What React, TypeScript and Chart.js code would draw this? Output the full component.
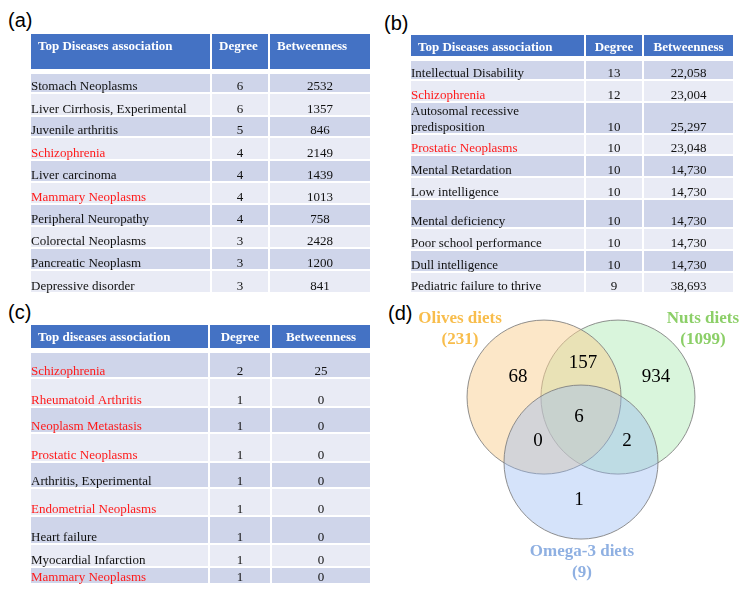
import React, { useEffect, useRef } from 'react';
import { Chart, registerables } from 'chart.js';

Chart.register(...registerables);

// ------------------------------------------------------------------ data
const tableAHeader = ['Top Diseases association', 'Degree', 'Betweenness'];
const tableADiseases = [
  'Stomach Neoplasms', 'Liver Cirrhosis, Experimental', 'Juvenile arthritis', 'Schizophrenia',
  'Liver carcinoma', 'Mammary Neoplasms', 'Peripheral Neuropathy', 'Colorectal Neoplasms',
  'Pancreatic Neoplasm', 'Depressive disorder',
];
const tableADegree = [6, 6, 5, 4, 4, 4, 4, 3, 3, 3];
const tableABetweenness = [2532, 1357, 846, 2149, 1439, 1013, 758, 2428, 1200, 841];

const tableBHeader = ['Top Diseases association', 'Degree', 'Betweenness'];
const tableBDiseases = [
  'Intellectual Disability', 'Schizophrenia', 'Autosomal recessive\npredisposition', 'Prostatic Neoplasms',
  'Mental Retardation', 'Low intelligence', 'Mental deficiency', 'Poor school performance',
  'Dull intelligence', 'Pediatric failure to thrive',
];
const tableBDegree = [13, 12, 10, 10, 10, 10, 10, 10, 10, 9];
const tableBBetweenness = [22058, 23004, 25297, 23048, 14730, 14730, 14730, 14730, 14730, 38693];

const tableCHeader = ['Top diseases association', 'Degree', 'Betweenness'];
const tableCDiseases = [
  'Schizophrenia', 'Rheumatoid Arthritis', 'Neoplasm Metastasis', 'Prostatic Neoplasms',
  'Arthritis, Experimental', 'Endometrial Neoplasms', 'Heart failure', 'Myocardial Infarction',
  'Mammary Neoplasms',
];
const tableCDegree = [2, 1, 1, 1, 1, 1, 1, 1, 1];
const tableCBetweenness = [25, 0, 0, 0, 0, 0, 0, 0, 0];

const highlightedDiseases = [
  'Schizophrenia', 'Mammary Neoplasms', 'Prostatic Neoplasms', 'Rheumatoid Arthritis',
  'Neoplasm Metastasis', 'Endometrial Neoplasms',
];

const vennSetNames = ['Olives diets', 'Nuts diets', 'Omega-3 diets'];
const vennSetSizes = [231, 1099, 9];
const vennRegionNames = ['Olives only', 'Olives & Nuts', 'Nuts only', 'All three', 'Olives & Omega-3', 'Nuts & Omega-3', 'Omega-3 only'];
const vennRegionCounts = [68, 157, 934, 6, 0, 2, 1];

// ------------------------------------------------------------------ style / layout
const SERIF = '"Liberation Serif", "Times New Roman", Times, serif';
const SANS = '"Liberation Sans", Arial, Helvetica, sans-serif';
const HEADER_BLUE = '#4472c4';
const ROW_DARK = '#cfd5ea';
const ROW_LIGHT = '#e9ebf5';
const TEXT_RED = '#ff1a1a';
const TEXT_BLACK = '#111111';
const BODY_FONT = `13px ${SERIF}`;
const HEADER_FONT = `bold 13px ${SERIF}`;

type TableSpec = {
  header: string[];
  names: string[];
  degree: number[];
  betweenness: number[];
  thousands: boolean;
  left: number;
  top: number;
  colEdges: number[];
  headerHeight: number;
  bodyStart: number;
  rowHeights: number[];
  headerAlign: string[];
};

const tableA: TableSpec = {
  header: tableAHeader, names: tableADiseases, degree: tableADegree, betweenness: tableABetweenness,
  thousands: false, left: 30, top: 33, colEdges: [0, 181, 239, 341], headerHeight: 37, bodyStart: 40,
  rowHeights: [20, 23, 21, 23, 22, 22, 22, 22, 22, 23], headerAlign: ['left', 'left', 'left'],
};
const tableB: TableSpec = {
  header: tableBHeader, names: tableBDiseases, degree: tableBDegree, betweenness: tableBBetweenness,
  thousands: true, left: 410, top: 34, colEdges: [0, 175, 233, 324], headerHeight: 23, bodyStart: 26,
  rowHeights: [20, 22, 32, 21, 22, 22, 29, 22, 22, 21], headerAlign: ['left', 'center', 'center'],
};
const tableC: TableSpec = {
  header: tableCHeader, names: tableCDiseases, degree: tableCDegree, betweenness: tableCBetweenness,
  thousands: false, left: 30, top: 324, colEdges: [0, 179, 241, 341], headerHeight: 25, bodyStart: 28,
  rowHeights: [26, 29, 26, 29, 26, 28, 28, 23, 17], headerAlign: ['left', 'center', 'center'],
};

const VENN_BOX = { left: 380, top: 300, width: 367, height: 299 };
const VENN_UNIT = 77; // px per circle radius
const VENN_ORIGIN = { x: 201, y: 118.7 }; // canvas px of the diagram centre
const vennCircleCenters = [[-0.48, 0.281], [0.48, 0.281], [0, -0.563]];
const vennRegionPositions = [
  [-0.818, 0.542], [0.026, 0.723], [0.974, 0.542], [-0.026, 0.022],
  [-0.558, -0.29], [0.597, -0.29], [-0.026, -1.056],
];
const vennSetLabelPositions = [[-1.571, 1.295], [1.584, 1.295], [0.013, -1.731]];
const vennCircleFills = ['rgba(249,207,145,0.5)', 'rgba(179,235,185,0.5)', 'rgba(150,185,242,0.4)'];
const vennCircleOrder = [1, 2, 0];
const vennLabelColors = ['#f8bd4c', '#8ccf68', '#8fb0e2'];

function loadFonts(): Promise<unknown> {
  const fonts = (document as any).fonts;
  if (!fonts) return Promise.resolve();
  return Promise.all(
    [BODY_FONT, HEADER_FONT, `19px ${SERIF}`, `bold 17px ${SERIF}`, `20px ${SANS}`].map((f) => fonts.load(f).catch(() => null)),
  );
}

// ------------------------------------------------------------------ table chart
function TableChart({ spec }: { spec: TableSpec }) {
  const ref = useRef<HTMLCanvasElement>(null);
  const width = spec.colEdges[spec.colEdges.length - 1];
  const height = spec.bodyStart + spec.rowHeights.reduce((a, b) => a + b, 0);

  useEffect(() => {
    const canvas = ref.current;
    if (!canvas) return;
    const tops: number[] = [0];
    const bottoms: number[] = [spec.headerHeight];
    let y = spec.bodyStart;
    spec.rowHeights.forEach((h) => {
      tops.push(y);
      y += h;
      bottoms.push(y);
    });
    const fmt = (n: number) => (spec.thousands ? n.toLocaleString('en-US') : String(n));
    const texts: string[][] = [
      spec.header,
      ...spec.names.map((n, i) => [n, String(spec.degree[i]), fmt(spec.betweenness[i])]),
    ];

    const datasets = [0, 1, 2].map((c) => ({
      label: spec.header[c],
      data: tops.map((t, r) => ({ x: (spec.colEdges[c] + spec.colEdges[c + 1]) / 2, y: [t, bottoms[r]] })),
      barThickness: spec.colEdges[c + 1] - spec.colEdges[c],
      grouped: false,
      backgroundColor: (ctx: any) => (ctx.dataIndex === 0 ? HEADER_BLUE : ctx.dataIndex % 2 === 1 ? ROW_DARK : ROW_LIGHT),
      borderColor: '#ffffff',
      borderWidth: 1,
      borderSkipped: false,
      inflateAmount: 0,
    }));

    const textPlugin = {
      id: 'tableText',
      afterDatasetsDraw(chart: any) {
        const ctx = chart.ctx as CanvasRenderingContext2D;
        ctx.save();
        for (let c = 0; c < 3; c++) {
          const meta = chart.getDatasetMeta(c);
          meta.data.forEach((el: any, r: number) => {
            const p = el.getProps(['x', 'y', 'base', 'width'], true);
            const top = Math.min(p.y, p.base);
            const bottom = Math.max(p.y, p.base);
            const left = p.x - p.width / 2;
            const txt = texts[r][c];
            if (r === 0) {
              ctx.font = HEADER_FONT;
              ctx.fillStyle = '#ffffff';
              ctx.textBaseline = 'alphabetic';
              if (spec.headerAlign[c] === 'center') {
                ctx.textAlign = 'center';
                ctx.fillText(txt, p.x, top + 16.5);
              } else {
                ctx.textAlign = 'left';
                ctx.fillText(txt, left + 8, top + 16.5);
              }
              return;
            }
            ctx.font = BODY_FONT;
            ctx.textBaseline = 'alphabetic';
            const lines = txt.split('\n');
            if (c === 0) {
              ctx.textAlign = 'left';
              ctx.fillStyle = highlightedDiseases.includes(txt) ? TEXT_RED : TEXT_BLACK;
              lines.forEach((line, k) => {
                ctx.fillText(line, left + 1, bottom - 3 - (lines.length - 1 - k) * 16);
              });
            } else {
              ctx.textAlign = 'center';
              ctx.fillStyle = TEXT_BLACK;
              ctx.fillText(txt, p.x, bottom - 3);
            }
          });
        }
        ctx.restore();
      },
    };

    const chart = new Chart(canvas, {
      type: 'bar',
      data: { datasets: datasets as any },
      options: {
        animation: false,
        responsive: false,
        maintainAspectRatio: false,
        events: [],
        layout: { padding: 0, autoPadding: false },
        plugins: { legend: { display: false }, tooltip: { enabled: false } },
        scales: {
          x: { type: 'linear', min: 0, max: width, display: false, offset: false },
          y: { type: 'linear', min: 0, max: height, reverse: true, display: false },
        },
      } as any,
      plugins: [textPlugin],
    });
    let alive = true;
    loadFonts().then(() => {
      if (alive) chart.update();
    });
    return () => {
      alive = false;
      chart.destroy();
    };
  }, [spec]);

  return (
    <div style={{ position: 'absolute', left: spec.left, top: spec.top, width, height }}>
      <canvas ref={ref} width={width} height={height} style={{ display: 'block' }} />
    </div>
  );
}

// ------------------------------------------------------------------ venn chart
function VennChart() {
  const ref = useRef<HTMLCanvasElement>(null);
  useEffect(() => {
    const canvas = ref.current;
    if (!canvas) return;
    const xMin = -VENN_ORIGIN.x / VENN_UNIT;
    const xMax = (VENN_BOX.width - VENN_ORIGIN.x) / VENN_UNIT;
    const yMax = VENN_ORIGIN.y / VENN_UNIT;
    const yMin = -(VENN_BOX.height - VENN_ORIGIN.y) / VENN_UNIT;
    // one data unit = one circle radius; the x and y scales span VENN_UNIT px per unit
    const circles = vennSetNames.map((name, i) => ({
      label: name,
      data: [{ x: vennCircleCenters[i][0], y: vennCircleCenters[i][1], r: VENN_UNIT }],
      backgroundColor: vennCircleFills[i],
      borderColor: 'rgba(125,125,125,0.85)',
      borderWidth: 1,
      hoverRadius: 0,
      order: vennCircleOrder[i],
      clip: false,
    }));
    const regions = {
      label: 'regions',
      data: vennRegionPositions.map(([x, y], i) => ({ x, y, r: 0, name: vennRegionNames[i] })),
      borderWidth: 0,
      backgroundColor: 'rgba(0,0,0,0)',
      order: -1,
      clip: false,
    };
    const setLabels = {
      label: 'set labels',
      data: vennSetLabelPositions.map(([x, y]) => ({ x, y, r: 0 })),
      borderWidth: 0,
      backgroundColor: 'rgba(0,0,0,0)',
      order: -2,
      clip: false,
    };
    const textPlugin = {
      id: 'vennText',
      afterDatasetsDraw(chart: any) {
        const ctx = chart.ctx as CanvasRenderingContext2D;
        ctx.save();
        ctx.textAlign = 'center';
        ctx.textBaseline = 'middle';
        ctx.font = `19px ${SERIF}`;
        ctx.fillStyle = '#000000';
        chart.getDatasetMeta(3).data.forEach((el: any, i: number) => {
          ctx.fillText(String(vennRegionCounts[i]), el.x, el.y);
        });
        ctx.font = `bold 17px ${SERIF}`;
        chart.getDatasetMeta(4).data.forEach((el: any, i: number) => {
          ctx.fillStyle = vennLabelColors[i];
          ctx.fillText(vennSetNames[i], el.x, el.y);
          ctx.fillText(`(${vennSetSizes[i]})`, el.x, el.y + 21);
        });
        ctx.restore();
      },
    };
    const chart = new Chart(canvas, {
      type: 'bubble',
      data: { datasets: [...circles, regions, setLabels] as any },
      options: {
        animation: false,
        responsive: false,
        maintainAspectRatio: false,
        events: [],
        layout: { padding: 0, autoPadding: false },
        plugins: { legend: { display: false }, tooltip: { enabled: false } },
        scales: {
          x: { type: 'linear', min: xMin, max: xMax, display: false },
          y: { type: 'linear', min: yMin, max: yMax, display: false },
        },
      } as any,
      plugins: [textPlugin],
    });
    let alive = true;
    loadFonts().then(() => {
      if (alive) chart.update();
    });
    return () => {
      alive = false;
      chart.destroy();
    };
  }, []);
  return (
    <div style={{ position: 'absolute', left: VENN_BOX.left, top: VENN_BOX.top, width: VENN_BOX.width, height: VENN_BOX.height }}>
      <canvas ref={ref} width={VENN_BOX.width} height={VENN_BOX.height} style={{ display: 'block' }} />
    </div>
  );
}

function PanelLabel({ text, left, top }: { text: string; left: number; top: number }) {
  return (
    <div style={{ position: 'absolute', left, top, fontFamily: SANS, fontSize: 20, lineHeight: '20px', color: '#000', whiteSpace: 'nowrap' }}>
      {text}
    </div>
  );
}

export default function App() {
  return (
    <div style={{ position: 'absolute', left: 0, top: 0, width: 747, height: 599, background: '#ffffff', overflow: 'hidden' }}>
      <PanelLabel text="(a)" left={8} top={10} />
      <PanelLabel text="(b)" left={384} top={13} />
      <PanelLabel text="(c)" left={8} top={302} />
      <PanelLabel text="(d)" left={388} top={303} />
      <TableChart spec={tableA} />
      <TableChart spec={tableB} />
      <TableChart spec={tableC} />
      <VennChart />
    </div>
  );
}
